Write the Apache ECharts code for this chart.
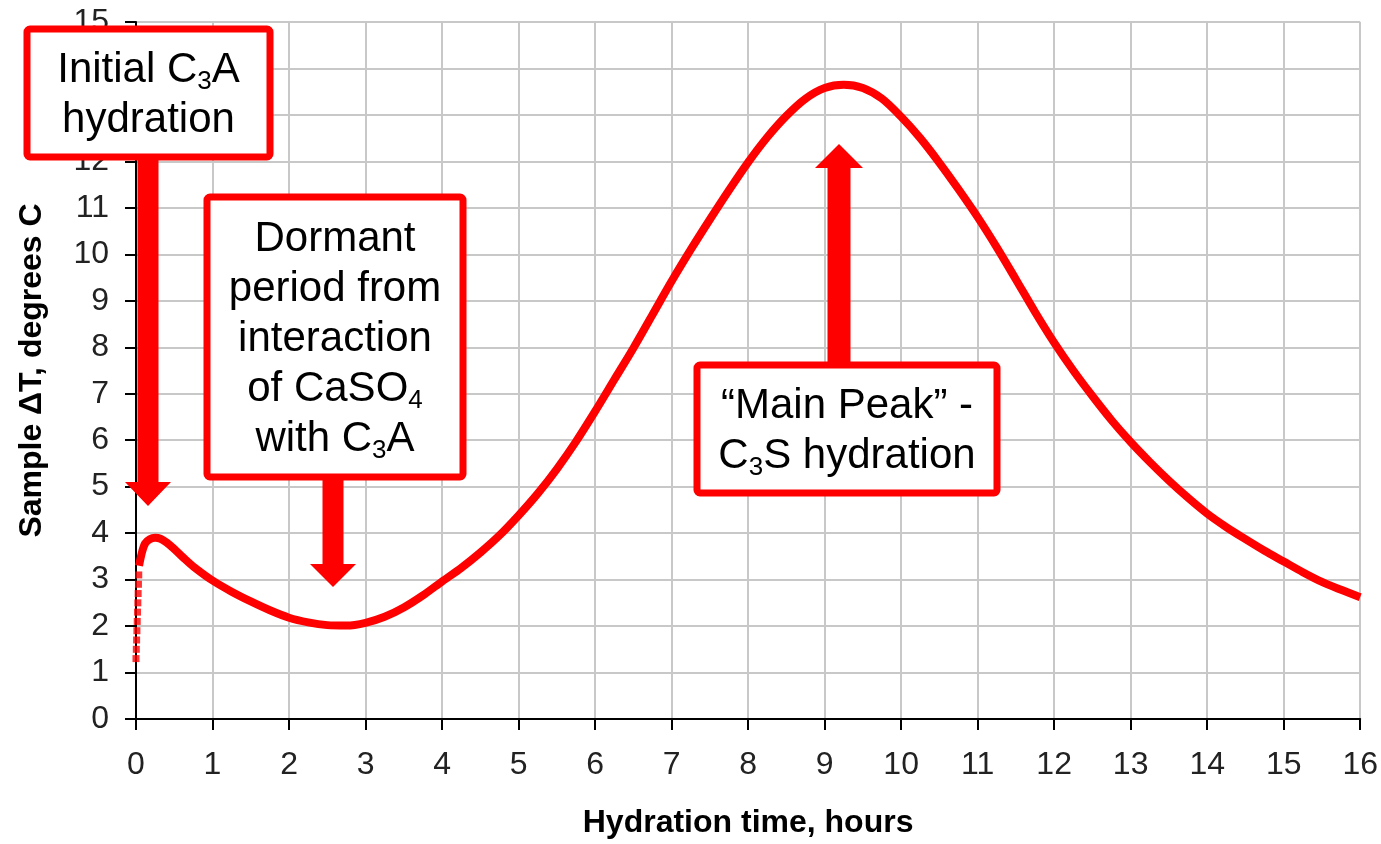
<!DOCTYPE html>
<html>
<head>
<meta charset="utf-8">
<script src="https://cdn.jsdelivr.net/npm/echarts@6/dist/echarts.min.js"></script>
<style>
  html, body { margin: 0; padding: 0; background: #fff; }
  #chart { width: 1381px; height: 844px; }
</style>
</head>
<body>
<div id="chart"></div>
<script>
// hydration curve
const hours = [0.04, 0.08, 0.12, 0.18, 0.25, 0.32, 0.4, 0.5, 0.62, 0.75,
  1.0, 1.25, 1.5, 1.75, 2.0, 2.25, 2.5, 2.75, 3.0, 3.25, 3.5, 3.75,
  4.0, 4.25, 4.5, 4.75, 5.0, 5.25, 5.5, 5.75, 6.0, 6.25, 6.5, 6.75,
  7.0, 7.25, 7.5, 7.75, 8.0, 8.25, 8.5, 8.75, 9.0, 9.25, 9.5, 9.75,
  10.0, 10.25, 10.5, 10.75, 11.0, 11.25, 11.5, 11.75, 12.0, 12.25, 12.5, 12.75,
  13.0, 13.25, 13.5, 13.75, 14.0, 14.25, 14.5, 14.75, 15.0, 15.25, 15.5, 15.75, 16.0];
const deltaT = [3.3, 3.6, 3.78, 3.87, 3.9, 3.88, 3.8, 3.66, 3.47, 3.28,
  2.98, 2.74, 2.53, 2.34, 2.18, 2.08, 2.02, 2.01, 2.07, 2.2, 2.4, 2.66,
  2.96, 3.25, 3.58, 3.95, 4.38, 4.85, 5.38, 5.97, 6.62, 7.3, 7.98, 8.7,
  9.42, 10.1, 10.75, 11.38, 11.98, 12.52, 12.98, 13.35, 13.58, 13.65, 13.58, 13.35,
  12.96, 12.5, 11.97, 11.4, 10.8, 10.15, 9.46, 8.76, 8.1, 7.5, 6.95, 6.43,
  5.96, 5.53, 5.13, 4.76, 4.42, 4.13, 3.87, 3.62, 3.39, 3.16, 2.95, 2.78, 2.62];
// first few readings, drawn as separate square markers
const earlyHours = [0.0, 0.004, 0.008, 0.012, 0.016, 0.02, 0.024, 0.028, 0.032, 0.036];
const earlyDeltaT = [1.3, 1.5, 1.7, 1.9, 2.1, 2.3, 2.5, 2.7, 2.9, 3.1];

const xTicks = [0, 16];
const yTicks = [0, 15];

const RED = '#ff0000';
const FONT = 'Liberation Sans, Arial, sans-serif';

const chart = echarts.init(document.getElementById('chart'));

const axisCommon = {
  type: 'value',
  interval: 1,
  axisLine: { show: true, onZero: false, lineStyle: { color: '#000', width: 2 } },
  axisTick: { show: true, length: 11, lineStyle: { color: '#000', width: 2 } },
  splitLine: { show: true, lineStyle: { color: '#c8c8c8', width: 2 } },
  nameTextStyle: { fontFamily: FONT, fontSize: 32, fontWeight: 'bold', color: '#000' },
  nameLocation: 'middle',
};

chart.setOption({
  animation: false,
  backgroundColor: '#fff',
  grid: { left: 136, right: 19, top: 22, bottom: 123 },
  xAxis: {
    ...axisCommon,
    min: xTicks[0],
    max: xTicks[1],
    name: 'Hydration time, hours',
    nameGap: 88,
    axisLabel: { fontFamily: FONT, fontSize: 32, color: '#222', margin: 30 },
  },
  yAxis: {
    ...axisCommon,
    min: yTicks[0],
    max: yTicks[1],
    name: 'Sample \u0394T, degrees C',
    nameGap: 88,
    axisLabel: { fontFamily: FONT, fontSize: 32, color: '#222', margin: 27 },
  },
  series: [
    {
      type: 'line',
      data: hours.map((h, i) => [h, deltaT[i]]),
      showSymbol: false,
      smooth: 0.3,
      lineStyle: { color: RED, width: 8 },
      z: 3,
    },
    {
      type: 'scatter',
      data: earlyHours.map((h, i) => [h, earlyDeltaT[i]]),
      symbol: 'rect',
      symbolSize: 7,
      itemStyle: { color: RED },
      z: 3,
    },
  ],
});

// annotation boxes + arrows
const textRich = {
  n: { fontFamily: FONT, fontSize: 42, lineHeight: 50, color: '#000' },
  s: { fontFamily: FONT, fontSize: 26, lineHeight: 22, verticalAlign: 'bottom', color: '#000' },
};

function box(x0, y0, x1, y1, text) {
  return [
    {
      type: 'rect', z: 100,
      shape: { x: x0, y: y0, width: x1 - x0, height: y1 - y0, r: 3 },
      style: { fill: '#fff', stroke: RED, lineWidth: 7 },
    },
    {
      type: 'text', z: 101,
      x: (x0 + x1) / 2, y: (y0 + y1) / 2 + 2,
      style: { text: text, rich: textRich, align: 'center', verticalAlign: 'middle' },
    },
  ];
}

function arrow(cx, from, tip, shaftW, headW, headL) {
  const dir = tip > from ? 1 : -1;
  const base = tip - dir * headL;
  return {
    type: 'polygon', z: 99,
    shape: {
      points: [
        [cx - shaftW / 2, from], [cx - shaftW / 2, base], [cx - headW / 2, base], [cx, tip],
        [cx + headW / 2, base], [cx + shaftW / 2, base], [cx + shaftW / 2, from],
      ],
    },
    style: { fill: RED },
  };
}

chart.setOption({
  graphic: [
    arrow(148, 150, 506, 21, 46, 24),
    ...box(27, 29, 270, 157, '{n|Initial C}{s|3}{n|A}\n{n|hydration}'),
    arrow(333, 470, 587, 21, 46, 23),
    ...box(207, 197, 463, 477,
      '{n|Dormant}\n{n|period from}\n{n|interaction}\n{n|of CaSO}{s|4}\n{n|with C}{s|3}{n|A}'),
    arrow(839, 372, 144, 23, 48, 24),
    ...box(697, 365, 997, 493, '{n|\u201CMain Peak\u201D -}\n{n|C}{s|3}{n|S hydration}'),
  ],
});
</script>
</body>
</html>
